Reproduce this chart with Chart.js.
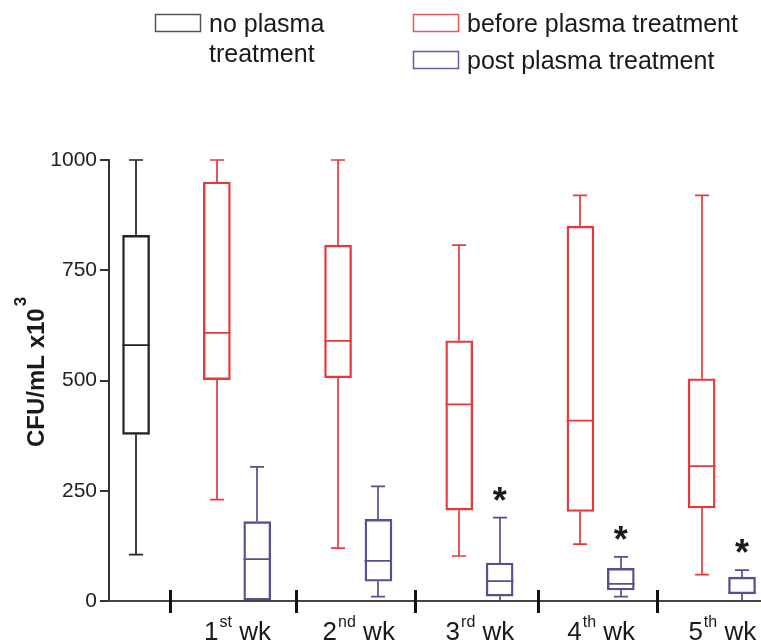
<!DOCTYPE html>
<html>
<head>
<meta charset="utf-8">
<script src="https://cdn.jsdelivr.net/npm/chart.js@4.4.1/dist/chart.umd.min.js"></script>
<style>
  html, body { margin: 0; padding: 0; background: #fff; }
  #wrap { width: 761px; height: 644px; position: relative; }
</style>
</head>
<body>
<div id="wrap"><canvas id="chart"></canvas></div>
<script>
const seriesNames = ['no plasma treatment', 'before plasma treatment', 'post plasma treatment']
const weekNumbers = ['1', '2', '3', '4', '5']
const weekSuffixes = ['st', 'nd', 'rd', 'th', 'th']
const yTicks = [0, 250, 500, 750, 1000]

// min, q1, median, q3, max
const controlBox = [105, 378, 580, 829, 1000]

const beforeMin    = [230, 120, 102, 129, 60]
const beforeQ1     = [502, 506, 206, 203, 211]
const beforeMedian = [608, 590, 446, 409, 306]
const beforeQ3     = [950, 807, 590, 850, 504]
const beforeMax    = [1000, 1000, 807, 920, 920]

const postMin    = [0, 10, 0, 10, 0]
const postQ1     = [0, 45, 11, 25, 16]
const postMedian = [95, 91, 45, 39, 19]
const postQ3     = [180, 185, 86, 74, 54]
const postMax    = [304, 260, 189, 100, 70]
const postSignificant = [false, false, true, true, true]

const BLACK = '#222'
const RED = '#e8383b'
const BLUE = '#5a4e8e'
const FONT = "'Liberation Sans', Arial, sans-serif"

// slot layout: control at 0, then before/post pairs per week
const beforeX = weekNumbers.map((_, i) => 2 + 3 * i)
const postX = weekNumbers.map((_, i) => 3 + 3 * i)
const weekDividers = [0.85, 3.95, 6.9, 9.95, 12.9]

const boxes = (xs, mins, q1, med, q3, maxs) =>
  xs.map((x, i) => ({ x, y: [q1[i], q3[i]], min: mins[i], med: med[i], max: maxs[i] }))

const barStyle = {
  type: 'bar',
  backgroundColor: 'rgba(255,255,255,0)',
  borderWidth: 1.7,
  borderSkipped: false,
  barThickness: 27,
  grouped: false,
}

const boxPlot = {
  id: 'boxPlot',
  afterDatasetsDraw(chart) {
    const { ctx, scales: { x, y } } = chart
    chart.data.datasets.forEach(ds => {
      ctx.save()
      ctx.strokeStyle = ds.borderColor
      ctx.lineWidth = 1.7
      ds.data.forEach(d => {
        const cx = Math.round(x.getPixelForValue(d.x))
        const half = 13.5, cap = 7
        const pMin = y.getPixelForValue(d.min), pQ1 = y.getPixelForValue(d.y[0])
        const pMed = y.getPixelForValue(d.med), pQ3 = y.getPixelForValue(d.y[1])
        const pMax = y.getPixelForValue(d.max)
        ctx.beginPath()
        if (d.max > d.y[1]) {
          ctx.moveTo(cx, pQ3); ctx.lineTo(cx, pMax)
          ctx.moveTo(cx - cap, pMax); ctx.lineTo(cx + cap, pMax)
        }
        if (d.min < d.y[0]) {
          ctx.moveTo(cx, pQ1); ctx.lineTo(cx, pMin)
          ctx.moveTo(cx - cap, pMin); ctx.lineTo(cx + cap, pMin)
        }
        ctx.moveTo(cx - half, pMed); ctx.lineTo(cx + half, pMed)
        ctx.stroke()
      })
      ctx.restore()
    })
  },
  afterDraw(chart) {
    const { ctx, chartArea, scales: { x, y } } = chart
    ctx.save()

    // x axis line and week dividers
    const y0 = y.getPixelForValue(0)
    ctx.strokeStyle = '#444'
    ctx.lineWidth = 2
    ctx.beginPath()
    ctx.moveTo(chartArea.left, y0); ctx.lineTo(chartArea.right, y0)
    ctx.stroke()
    ctx.strokeStyle = '#111'
    ctx.lineWidth = 3
    ctx.beginPath()
    weekDividers.forEach(v => {
      const px = Math.round(x.getPixelForValue(v)) + 0.5
      ctx.moveTo(px, y0 - 11); ctx.lineTo(px, y0 + 12)
    })
    ctx.stroke()

    // week labels with superscript suffix
    ctx.fillStyle = '#1a1a1a'
    ctx.textBaseline = 'alphabetic'
    ctx.textAlign = 'left'
    weekNumbers.forEach((n, i) => {
      ctx.font = `26px ${FONT}`
      const wn = ctx.measureText(n).width
      const ww = ctx.measureText(' wk').width
      ctx.font = `16px ${FONT}`
      const ws = ctx.measureText(weekSuffixes[i]).width
      const cx = x.getPixelForValue((beforeX[i] + postX[i]) / 2)
      const px = cx - (wn + ws + ww) / 2
      ctx.font = `26px ${FONT}`
      ctx.fillText(n, px, 640)
      ctx.font = `16px ${FONT}`
      ctx.fillText(weekSuffixes[i], px + wn + 1, 627)
      ctx.font = `26px ${FONT}`
      ctx.fillText(' wk', px + wn + ws + 1, 640)
    })

    // significance marks
    ctx.font = `bold 36px ${FONT}`
    ctx.textAlign = 'center'
    postSignificant.forEach((s, i) => {
      if (!s) return
      const px = x.getPixelForValue(postX[i])
      const py = y.getPixelForValue(postMax[i]) - 26
      ctx.fillText('*', px, py + 21)
    })

    // y axis title with superscript
    ctx.save()
    ctx.translate(43.5, 447)
    ctx.rotate(-Math.PI / 2)
    ctx.textAlign = 'left'
    ctx.font = `bold 24px ${FONT}`
    const title = 'CFU/mL x10'
    ctx.fillText(title, 0, 0)
    const tw = ctx.measureText(title).width
    ctx.font = `bold 17px ${FONT}`
    ctx.fillText('3', tw + 2, -18)
    ctx.restore()

    // legend
    const legend = [
      { lines: ['no plasma', 'treatment'], color: '#555', bx: 155, by: 14 },
      { lines: [seriesNames[1]], color: '#e85a5a', bx: 413, by: 14 },
      { lines: [seriesNames[2]], color: '#6a5e9c', bx: 413, by: 51 },
    ]
    ctx.textAlign = 'left'
    ctx.lineWidth = 1.5
    ctx.font = `25px ${FONT}`
    ctx.fillStyle = '#1a1a1a'
    legend.forEach(item => {
      ctx.strokeStyle = item.color
      ctx.strokeRect(item.bx + 0.5, item.by + 0.5, 45, 17)
      item.lines.forEach((t, li) => ctx.fillText(t, item.bx + 54, item.by + 18 + li * 30))
    })
    ctx.restore()
  },
}

new Chart(document.getElementById('chart'), {
  data: {
    datasets: [
      {
        ...barStyle,
        label: seriesNames[0],
        borderColor: BLACK,
        data: [{ x: 0, y: [controlBox[1], controlBox[3]], min: controlBox[0], med: controlBox[2], max: controlBox[4] }],
      },
      {
        ...barStyle,
        label: seriesNames[1],
        borderColor: RED,
        data: boxes(beforeX, beforeMin, beforeQ1, beforeMedian, beforeQ3, beforeMax),
      },
      {
        ...barStyle,
        label: seriesNames[2],
        borderColor: BLUE,
        data: boxes(postX, postMin, postQ1, postMedian, postQ3, postMax),
      },
    ],
  },
  options: {
    responsive: true,
    maintainAspectRatio: false,
    animation: false,
    layout: { padding: { left: 0, top: 160, right: 0, bottom: 43 } },
    scales: {
      x: { type: 'linear', min: -0.67, max: 15.47, offset: false, display: false },
      y: {
        min: 0,
        max: 1000,
        afterBuildTicks: s => { s.ticks = yTicks.map(v => ({ value: v })) },
        afterFit: s => { s.width = 109 },
        ticks: { color: '#222', padding: 3, font: { size: 21, family: FONT }, callback: v => String(v) },
        grid: { drawOnChartArea: false, tickLength: 9, color: '#333', lineWidth: 2 },
        border: { display: true, color: '#333', width: 2 },
      },
    },
    plugins: {
      legend: { display: false },
      tooltip: { enabled: false },
    },
  },
  plugins: [boxPlot],
})
</script>
</body>
</html>
